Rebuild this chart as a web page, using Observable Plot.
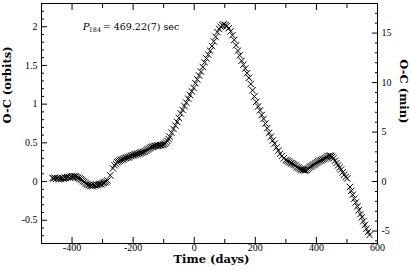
<!DOCTYPE html>
<html><head><meta charset="utf-8">
<script src="https://cdn.jsdelivr.net/npm/d3@7"></script>
<script src="https://cdn.jsdelivr.net/npm/@observablehq/plot@0.6"></script>
<style>body{margin:0;background:#fff}</style>
</head><body><div id="chart"></div>
<script>
// Time (days) of each timing measurement
const days = [
  -464,-460,-456,-452,-448,-444,-440,-436,-432,-428,-424,-420,-416,-412,-408,-404,-400,-396,-392,-388,-384,-380,-376,-372,-368,-364,-360,-356,-352,-348,-344,-340,-336,-332,-328,-324,-320,-316,-312,-308,-304,-300,-296,-292,-288,-284,
  -275,-266,-261,
  -256,-252,-248,-244,-240,-236,-232,-228,-224,-220,-216,-212,-208,-204,-200,-196,-192,-188,-184,-180,-176,-172,-168,-164,-160,-156,-152,-148,-144,-140,-136,-132,-128,-124,-120,-116,-112,-108,-104,-100,-96,-92,-88,-84,
  -80,-74,-68,-62,-56,-50,-44,-38,-32,-26,-20,-14,-8,-2,4,10,16,22,28,34,40,46,52,58,64,70,76,82,87,92,97,102,107,
  113,119,125,131,137,143,149,155,161,167,173,179,185,191,197,203,209,215,221,227,233,239,245,251,257,263,269,275,281,287,293,
  300,304,308,312,316,320,324,328,332,336,340,344,348,352,356,360,364,368,372,376,380,384,388,392,396,400,404,408,412,416,420,424,428,432,436,440,444,448,452,456,
  461,466,471,476,481,486,491,496,501,510,514,519,524,529,534,539,544,549,554,559,564,569,574
];
// O-C in orbits, same order
const orbits = [
  0.045,0.04,0.05,0.035,0.045,0.03,0.04,0.035,0.045,0.04,0.05,0.045,0.055,0.06,0.05,0.065,0.07,0.06,0.07,0.065,0.055,0.05,0.04,0.03,0.02,0.005,-0.005,-0.02,-0.03,-0.04,-0.045,-0.055,-0.05,-0.06,-0.045,-0.05,-0.04,-0.045,-0.035,-0.03,-0.035,-0.02,-0.015,-0.01,0.0,0.015,
  0.08,0.17,0.21,
  0.23,0.25,0.26,0.27,0.28,0.285,0.29,0.30,0.305,0.31,0.315,0.32,0.33,0.335,0.34,0.345,0.35,0.355,0.36,0.365,0.37,0.375,0.38,0.385,0.395,0.405,0.415,0.425,0.435,0.445,0.45,0.455,0.46,0.46,0.465,0.465,0.47,0.47,0.475,0.48,0.49,0.505,0.525,0.55,
  0.58,0.63,0.68,0.725,0.77,0.82,0.88,0.925,0.975,1.02,1.07,1.12,1.165,1.21,1.27,1.32,1.37,1.42,1.48,1.54,1.59,1.64,1.69,1.75,1.81,1.87,1.93,1.97,2.0,2.02,2.03,2.02,2.01,
  1.98,1.94,1.89,1.83,1.76,1.69,1.63,1.56,1.51,1.46,1.40,1.34,1.26,1.18,1.10,1.03,0.97,0.92,0.86,0.81,0.75,0.69,0.63,0.58,0.53,0.49,0.44,0.40,0.36,0.33,0.30,
  0.28,0.27,0.26,0.25,0.24,0.235,0.225,0.215,0.205,0.19,0.18,0.17,0.16,0.155,0.15,0.145,0.145,0.15,0.165,0.18,0.19,0.20,0.21,0.22,0.23,0.24,0.25,0.26,0.27,0.275,0.285,0.29,0.30,0.31,0.32,0.33,0.335,0.33,0.32,0.30,
  0.27,0.24,0.21,0.18,0.155,0.12,0.09,0.06,0.04,-0.07,-0.12,-0.17,-0.22,-0.27,-0.32,-0.37,-0.42,-0.46,-0.51,-0.56,-0.61,-0.65,-0.69
];

const periodSec = 469.22;
const minPerOrbit = periodSec / 60;

const xMajor = [-400,-200,0,200,400,600];
const xMinor = [-300,-100,100,300,500];
const yMajor = [-0.5,0,0.5,1,1.5,2];
const yMinor = [-0.7,-0.6,-0.4,-0.3,-0.2,-0.1,0.1,0.2,0.3,0.4,0.6,0.7,0.8,0.9,1.1,1.2,1.3,1.4,1.6,1.7,1.8,1.9,2.1,2.2];
const minMajor = [-5,0,5,10,15];
const minMinor = [-6,-4,-3,-2,-1,1,2,3,4,6,7,8,9,11,12,13,14,16,17];

const xLabel = "Time (days)";
const yLabel = "O-C (orbits)";
const y2Label = "O-C (min)";
const annot = {x: -365, y: 2, sym: "P", sub: "184", rest: "= 469.22(7) sec"};

const data = days.map((d, i) => ({day: d, oc: orbits[i]}));
const tickFont = {fontFamily: "'Liberation Serif', serif", fontSize: 10};
const titleFont = {fontFamily: "'DejaVu Serif', serif", fontWeight: "bold", fontSize: 11.5};
const toOrb = m => m / minPerOrbit;

const plot = Plot.plot({
  width: 411, height: 271,
  marginLeft: 41, marginRight: 34, marginTop: 3, marginBottom: 28,
  x: {domain: [-500, 600]},
  y: {domain: [-0.8, 2.3]},
  style: {background: "#fff", color: "#000"},
  marks: [
    // inward ticks on all four sides
    Plot.axisX(xMajor, {anchor: "bottom", tickSize: -6, fill: "none", label: null}),
    Plot.axisX(xMinor, {anchor: "bottom", tickSize: -4, fill: "none", label: null}),
    Plot.axisX(xMajor, {anchor: "top", tickSize: -6, fill: "none", label: null}),
    Plot.axisX(xMinor, {anchor: "top", tickSize: -4, fill: "none", label: null}),
    Plot.axisY(yMajor, {anchor: "left", tickSize: -6, fill: "none", label: null}),
    Plot.axisY(yMinor, {anchor: "left", tickSize: -3, fill: "none", label: null}),
    Plot.axisY(minMajor.map(toOrb), {anchor: "right", tickSize: -6, fill: "none", label: null}),
    Plot.axisY(minMinor.map(toOrb), {anchor: "right", tickSize: -3, fill: "none", label: null}),
    // tick labels
    Plot.axisX(xMajor, {anchor: "bottom", tickSize: 0, tickPadding: 0, tickFormat: d => String(d), label: null, ...tickFont}),
    Plot.axisY(yMajor, {anchor: "left", tickSize: 0, tickPadding: 4, tickFormat: d => String(d), label: null, ...tickFont}),
    Plot.axisY(minMajor.map(toOrb), {anchor: "right", tickSize: 0, tickPadding: 4, tickFormat: d => String(Math.round(d * minPerOrbit)), label: null, ...tickFont}),
    Plot.frame({stroke: "#000", strokeWidth: 1}),
    // data
    Plot.dot(data, {x: "day", y: "oc", symbol: "times", r: 3, stroke: "#000", strokeWidth: 1}),
    // axis titles
    Plot.text([xLabel], {text: d => d, frameAnchor: "bottom", dy: 19, dx: 2, ...titleFont}),
    Plot.text([yLabel], {text: d => d, frameAnchor: "left", dx: -34, rotate: -90, ...titleFont}),
    Plot.text([y2Label], {text: d => d, frameAnchor: "right", dx: 26, rotate: 90, ...titleFont}),
    // annotation
    Plot.text([annot], {x: "x", y: "y", text: "sym", textAnchor: "start", fontFamily: "'DejaVu Serif', serif", fontStyle: "italic", fontSize: 10}),
    Plot.text([annot], {x: "x", y: "y", text: "sub", textAnchor: "start", dx: 6, dy: 3, fontFamily: "'DejaVu Serif', serif", fontSize: 6.5}),
    Plot.text([annot], {x: "x", y: "y", text: "rest", textAnchor: "start", dx: 20, fontFamily: "'DejaVu Serif', serif", fontSize: 9.5})
  ]
});
document.getElementById("chart").appendChild(plot);
</script>
</body></html>
